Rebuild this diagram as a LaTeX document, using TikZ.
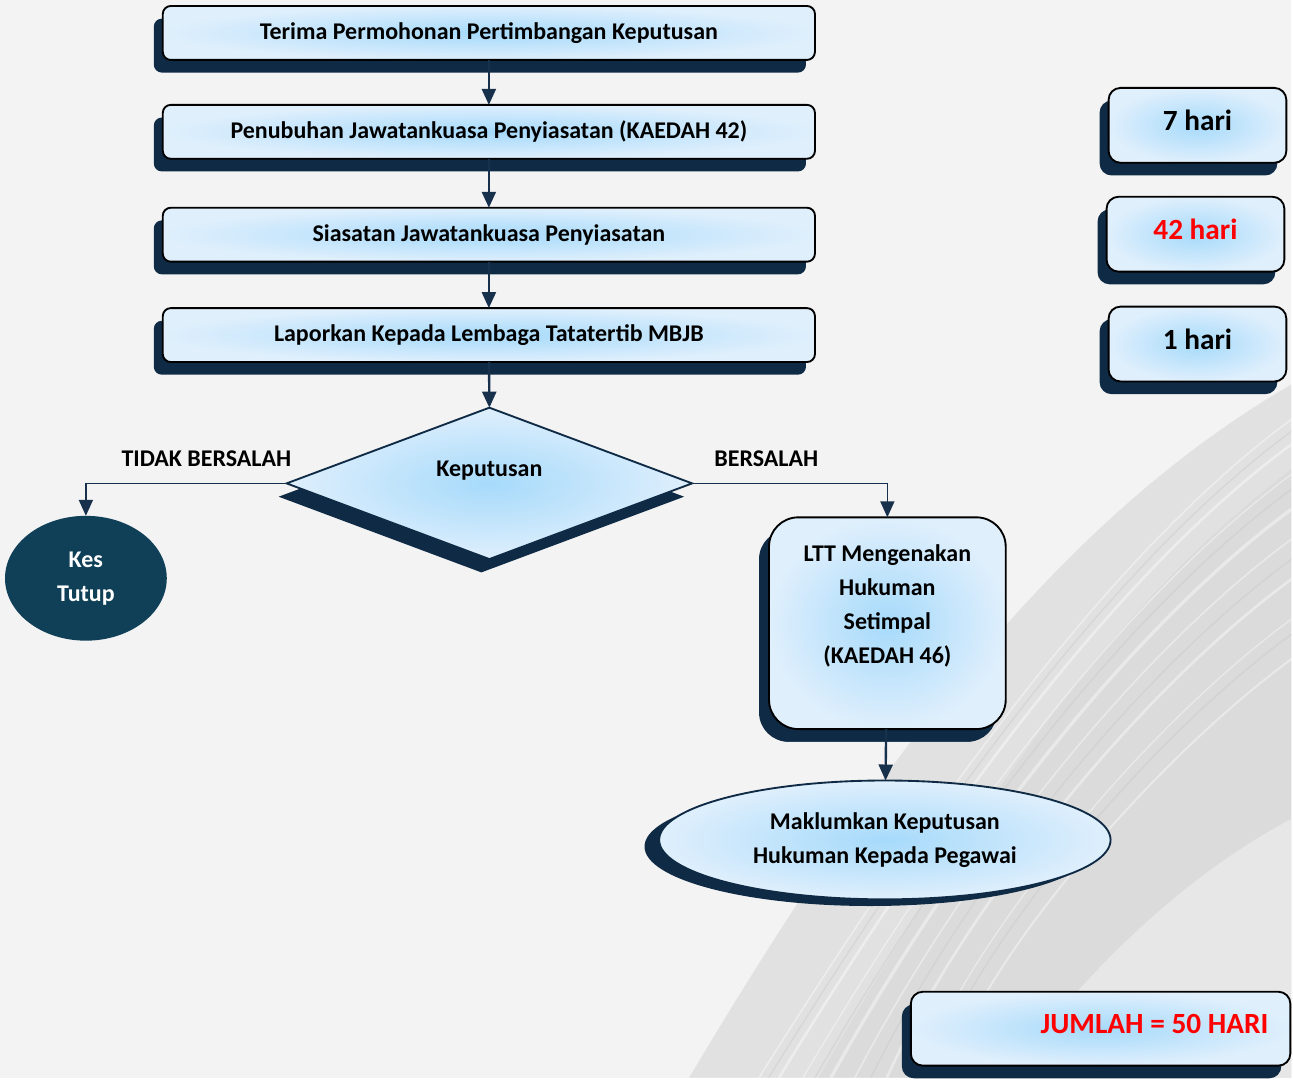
\documentclass[tikz,border=0pt]{standalone}
\usepackage{fontspec}
\setmainfont{Carlito}
\usetikzlibrary{shapes.geometric,shadows,arrows.meta}

\definecolor{navy}{HTML}{0F2A44}
\definecolor{boxin}{HTML}{A6DAFB}
\definecolor{boxout}{HTML}{DFEFFC}
\definecolor{kesfill}{HTML}{0F4058}
\definecolor{arrcol}{HTML}{17304B}
\definecolor{bgcol}{HTML}{F3F3F4}
\definecolor{marble}{HTML}{D0D0D0}

\begin{document}
\begin{tikzpicture}[x=0.75pt,y=-0.75pt,
    every node/.style={font=\bfseries\fontsize{18}{25.5}\selectfont, outer sep=0pt},
    stepbox/.style={draw=black, line width=1.4pt, rounded corners=6pt,
      inner color=boxin, outer color=boxout,
      minimum width=489.75pt, minimum height=40.5pt,
      drop shadow={shadow xshift=-6.75pt, shadow yshift=-9.5pt, fill=navy, opacity=1}},
    daybox/.style={stepbox, rounded corners=9pt, minimum width=133.5pt,
      minimum height=56.25pt, text depth=7.5pt, font=\bfseries\fontsize{22}{26}\selectfont},
    decide/.style={diamond, draw=navy, line width=1.4pt, inner color=boxin,
      outer color=boxout, minimum width=304.5pt, minimum height=111pt, inner sep=0pt,
      text depth=22.5pt,
      drop shadow={shadow xshift=-6pt, shadow yshift=-10pt, fill=navy, opacity=1}},
    endcase/.style={ellipse, fill=kesfill, text=white, minimum width=121.5pt,
      minimum height=93.75pt, align=center, inner sep=0pt},
    notify/.style={ellipse, draw=navy, line width=1.4pt, inner color=boxin,
      outer color=boxout, minimum width=339pt, minimum height=89.25pt, align=center,
      drop shadow={shadow xshift=-11pt, shadow yshift=-5pt, fill=navy, opacity=1}},
    arr/.style={draw=arrcol, line width=1.8pt, -{Triangle[width=10.5pt,length=12pt]}},
    branch/.style={draw=arrcol, line width=1.3pt, -{Triangle[width=10.5pt,length=12pt]}},
    lbl/.style={above=9pt}]

  % background
  \fill[bgcol] (0,0) rectangle (1293,1079);
  \fill[marble, opacity=0.5] (1293,385) .. controls (1060,520) and (880,760) .. (690,1079)
    -- (1293,1079) -- cycle;
  \fill[marble, opacity=0.35] (1293,470) .. controls (1120,600) and (980,800) .. (820,1079)
    -- (1293,1079) -- cycle;
  \fill[white, opacity=0.35] (1293,820) .. controls (1180,880) and (1080,980) .. (1010,1079)
    -- (1293,1079) -- cycle;
  \foreach \o/\w in {0/1.2,25/2,55/1,90/2.5,120/1.2,160/2,200/1,240/1.5}
    \draw[white, opacity=0.4, line width=\w pt]
      (1293,420+\o) .. controls (1130,540+\o) and (960,760+\o) .. (760+0.8*\o,1079);
  \foreach \o in {12,70,140,215}
    \draw[black!25, opacity=0.3, line width=1pt]
      (1293,420+\o) .. controls (1130,540+\o) and (960,760+\o) .. (760+0.8*\o,1079);

  % main steps
  \node[stepbox] (t1) at (489.5,33) {Terima Permohonan Pertimbangan Keputusan};
  \node[stepbox] (t2) at (489.5,132) {Penubuhan Jawatankuasa Penyiasatan (KAEDAH 42)};
  \node[stepbox] (t3) at (489.5,235) {Siasatan Jawatankuasa Penyiasatan};
  \node[stepbox] (t4) at (489.5,335.5) {Laporkan Kepada Lembaga Tatatertib MBJB};

  \node[decide] (dec) at (490,484) {Keputusan};

  \node[endcase] (kes) at (86,579) {Kes\\Tutup};
  \node[stepbox, rounded corners=22pt, minimum width=177.75pt, minimum height=159pt,
    align=center, text depth=29pt,
    drop shadow={shadow xshift=-7.5pt, shadow yshift=-9.5pt, fill=navy, opacity=1}]
    (ltt) at (888.5,624) {LTT Mengenakan\\Hukuman\\Setimpal\\(KAEDAH 46)};
  \node[notify] (mak) at (886,841) {Maklumkan Keputusan\\Hukuman Kepada Pegawai};

  % durations
  \node[daybox] (d1) at (1199,125.5) {7 hari};
  \node[daybox, text=red] (d2) at (1197,234.5) {42 hari};
  \node[daybox] (d3) at (1199,344.5) {1 hari};
  \node[daybox, minimum width=285pt, minimum height=55.5pt, text=red,
    text width=252pt, align=flush right] (jum) at (1102,1030) {JUMLAH = 50 HARI};

  % connectors
  \draw[arr] (t1) -- (t2);
  \draw[arr] (t2) -- (t3);
  \draw[arr] (t3) -- (t4);
  \draw[arr] (t4) -- (dec.north);
  \draw[branch] (dec.west) -| node[lbl, pos=0.2] (tb) {TIDAK BERSALAH} (kes.north);
  \draw[branch] (dec.east) -| node[lbl, pos=0.19] (bs) {BERSALAH} (ltt.north);
  \draw[arr] (ltt) -- (mak);
\end{tikzpicture}
\end{document}
